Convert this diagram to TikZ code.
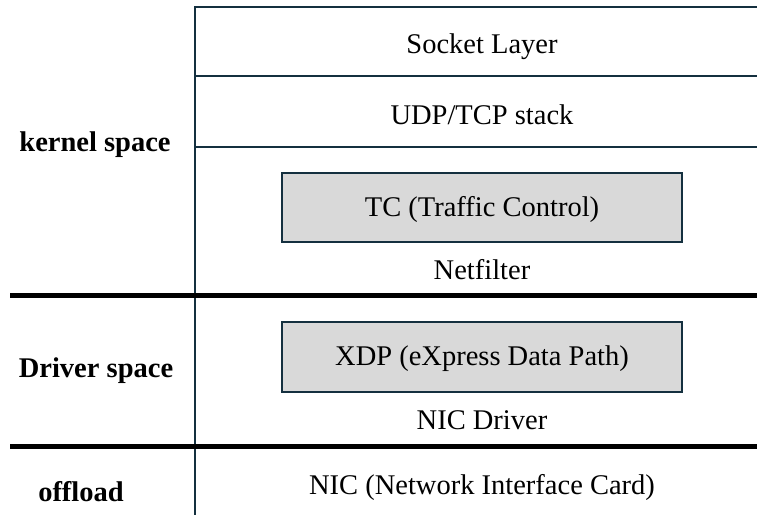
\documentclass[tikz,border=0pt]{standalone}
\usepackage{fontspec}
\setmainfont{Liberation Serif}
\definecolor{rule}{HTML}{14303F}
\definecolor{boxfill}{HTML}{D9D9D9}
\begin{document}
\begin{tikzpicture}[x=1pt,y=-1pt,
  thinrule/.style={draw=rule,line width=2.8pt},
  thickrule/.style={draw=black,line width=5pt},
  layerbox/.style={draw=rule,line width=2.8pt,fill=boxfill},
  lbl/.style={font=\fontsize{28.5}{34}\selectfont,inner sep=0pt},
  side/.style={font=\fontsize{28.5}{34}\selectfont\bfseries,inner sep=0pt}]
\useasboundingbox (0,0) rectangle (757,515);
% column and layer rules
\draw[thinrule] (757,7) -- (195,7) -- (195,515);
\draw[thinrule] (195,76) -- (757,76);
\draw[thinrule] (195,147) -- (757,147);
\draw[thickrule] (10,295) -- (757,295);
\draw[thickrule] (10,446) -- (757,446);
% hook boxes
\draw[layerbox] (282,173) rectangle (682,242);
\draw[layerbox] (282,322) rectangle (682,392);
% layer texts
\node[lbl] (sock) at (482,47) {Socket Layer};
\node[lbl] (udp) at (482,115) {UDP/TCP stack};
\node[lbl] (tc) at (482,209) {TC (Traffic Control)};
\node[lbl] (nf) at (482,270) {Netfilter};
\node[lbl] (xdp) at (482,359) {XDP (eXpress Data Path)};
\node[lbl] (drv) at (482,420) {NIC Driver};
\node[lbl] (nic) at (482,487) {NIC (Network Interface Card)};
% space labels
\node[side] (ks) at (95,145) {kernel space};
\node[side] (ds) at (96,371) {Driver space};
\node[side] (off) at (81,492) {offload};
\end{tikzpicture}
\end{document}
